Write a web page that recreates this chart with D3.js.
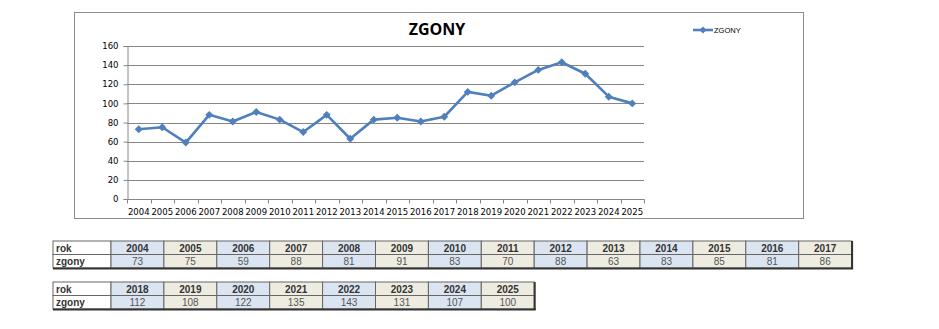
<!DOCTYPE html>
<html>
<head>
<meta charset="utf-8">
<script src="https://cdn.jsdelivr.net/npm/d3@7/dist/d3.min.js"></script>
<style>
  html, body { margin: 0; padding: 0; background: #fff; }
  svg { display: block; }
</style>
</head>
<body>
<svg id="chart" width="939" height="329"></svg>
<script>
// Deaths per year
const years = ["2004","2005","2006","2007","2008","2009","2010","2011","2012","2013","2014",
               "2015","2016","2017","2018","2019","2020","2021","2022","2023","2024","2025"];
const deaths = [73,75,59,88,81,91,83,70,88,63,83,85,81,86,112,108,122,135,143,131,107,100];
const yTicks = [0,20,40,60,80,100,120,140,160];
const seriesName = "ZGONY";
const rowLabels = ["rok", "zgony"];

const svg = d3.select("#chart");
const lineColor = "#4f7fbc";
const gridColor = "#868686";
const tickFont = "Tahoma, 'DejaVu Sans', sans-serif";

// chart frame
svg.append("rect").attr("x", 74.5).attr("y", 12.5).attr("width", 729).attr("height", 206)
  .attr("fill", "#fff").attr("stroke", "#8c8c8c").attr("stroke-width", 1);

const plot = { left: 127, right: 644, top: 46, bottom: 199 };

const x = d3.scaleBand().domain(years).range([plot.left, plot.right]).padding(0);
const y = d3.scaleLinear().domain([0, 160]).range([plot.bottom, plot.top]);

// gridlines
svg.append("g").selectAll("line").data(yTicks.filter(d => d > 0)).join("line")
  .attr("x1", plot.left).attr("x2", plot.right)
  .attr("y1", d => Math.round(y(d)) + 0.5).attr("y2", d => Math.round(y(d)) + 0.5)
  .attr("stroke", gridColor).attr("stroke-width", 1);

// y axis
const yAxis = svg.append("g").attr("transform", `translate(${plot.left + 0.5},0)`)
  .call(d3.axisLeft(y).tickValues(yTicks).tickSize(4).tickPadding(5));
yAxis.select(".domain").attr("stroke", gridColor);
yAxis.selectAll(".tick line").attr("stroke", gridColor);
yAxis.selectAll("text").attr("font-family", tickFont).attr("font-size", 8.5).attr("fill", "#000");

// x axis with ticks between categories
const xAxis = svg.append("g").attr("transform", `translate(0,${plot.bottom + 0.5})`);
xAxis.append("line").attr("x1", plot.left).attr("x2", plot.right + 0.5).attr("stroke", gridColor);
const bounds = years.map(d => x(d)).concat([plot.right]);
xAxis.selectAll("line.tk").data(bounds).join("line").attr("class", "tk")
  .attr("x1", d => Math.round(d) + 0.5).attr("x2", d => Math.round(d) + 0.5)
  .attr("y1", 0).attr("y2", 4).attr("stroke", gridColor);
xAxis.selectAll("text").data(years).join("text")
  .attr("x", d => x(d) + x.bandwidth() / 2).attr("y", 15)
  .attr("text-anchor", "middle").attr("font-family", tickFont).attr("font-size", 8.5)
  .attr("fill", "#000").text(d => d);

// title
svg.append("text").attr("x", 437).attr("y", 35).attr("text-anchor", "middle")
  .attr("font-family", "'Open Sans', 'DejaVu Sans', sans-serif").attr("font-weight", "bold")
  .attr("font-size", 16).attr("fill", "#000").text(seriesName);

// series line
const line = d3.line().x((d, i) => x(years[i]) + x.bandwidth() / 2).y(d => y(d));
svg.append("path").datum(deaths).attr("d", line).attr("fill", "none")
  .attr("stroke", lineColor).attr("stroke-width", 2.6).attr("stroke-linejoin", "round");

const diamond = d3.symbol().type(d3.symbolDiamond2).size(40);
svg.append("g").selectAll("path").data(deaths).join("path")
  .attr("transform", (d, i) => `translate(${x(years[i]) + x.bandwidth() / 2},${y(d)})`)
  .attr("d", diamond).attr("fill", lineColor);

// legend
const lg = svg.append("g").attr("transform", "translate(693,30)");
lg.append("line").attr("x1", 0).attr("x2", 20).attr("stroke", lineColor).attr("stroke-width", 2.6);
lg.append("path").attr("transform", "translate(10,0)").attr("d", d3.symbol().type(d3.symbolDiamond2).size(30)).attr("fill", lineColor);
lg.append("text").attr("x", 21).attr("y", 3).attr("font-family", "Arial, 'Liberation Sans', sans-serif")
  .attr("font-size", 7.5).attr("fill", "#000").text(seriesName);

// data tables
const tableFont = "Arial, 'Liberation Sans', sans-serif";
const colW = 52.9, labelW = 58, rowH = 13.5;
function drawTable(x0, y0, ys, vs) {
  const g = svg.append("g").attr("transform", `translate(${x0},${y0})`);
  const totalW = labelW + ys.length * colW;
  // label column
  rowLabels.forEach((lab, r) => {
    g.append("rect").attr("x", 0).attr("y", r * rowH).attr("width", labelW).attr("height", rowH)
      .attr("fill", "#fff").attr("stroke", "#666").attr("stroke-width", 1);
    g.append("text").attr("x", 3).attr("y", r * rowH + 10.5)
      .attr("font-family", tableFont).attr("font-size", 10).attr("font-weight", "bold")
      .attr("fill", "#333").text(lab);
  });
  ys.forEach((yr, i) => {
    const cx = labelW + i * colW;
    const fill = i % 2 === 0 ? "#dbe5f1" : "#eeece1";
    [yr, vs[i]].forEach((val, r) => {
      g.append("rect").attr("x", cx).attr("y", r * rowH).attr("width", colW).attr("height", rowH)
        .attr("fill", fill).attr("stroke", "#666").attr("stroke-width", 1);
      g.append("text").attr("x", cx + colW / 2).attr("y", r * rowH + 10.5)
        .attr("text-anchor", "middle").attr("font-family", tableFont).attr("font-size", 10)
        .attr("font-weight", r === 0 ? "bold" : "normal").attr("fill", r === 0 ? "#333" : "#555")
        .text(val);
    });
  });
  // heavier right and bottom edges
  g.append("line").attr("x1", totalW + 0.5).attr("x2", totalW + 0.5).attr("y1", 0).attr("y2", 2 * rowH + 1)
    .attr("stroke", "#333").attr("stroke-width", 2);
  g.append("line").attr("x1", 0).attr("x2", totalW + 1.5).attr("y1", 2 * rowH + 0.5).attr("y2", 2 * rowH + 0.5)
    .attr("stroke", "#333").attr("stroke-width", 2);
}
drawTable(53, 241, years.slice(0, 14), deaths.slice(0, 14));
drawTable(53, 282, years.slice(14), deaths.slice(14));
</script>
</body>
</html>
